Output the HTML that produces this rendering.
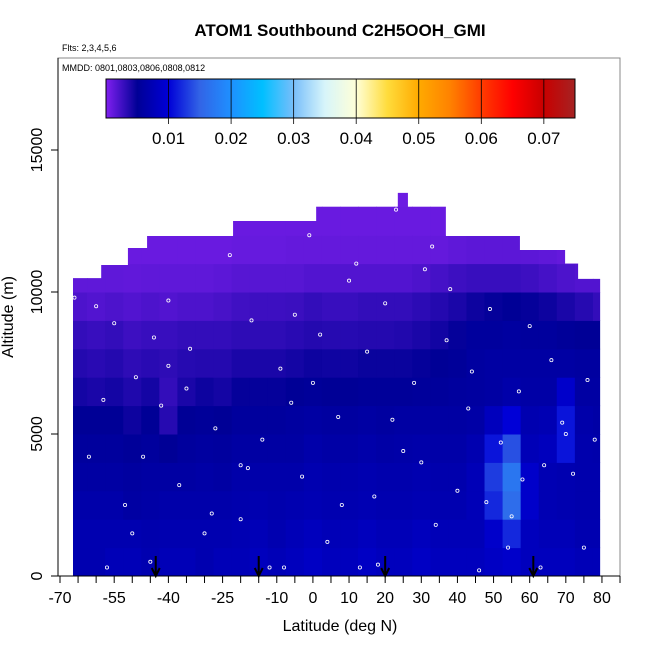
<!DOCTYPE html>
<html><head><meta charset="utf-8"><style>
body{margin:0;background:#fff}
svg text{font-family:"Liberation Sans",sans-serif}
</style></head><body>
<svg id="c" width="650" height="650" xmlns="http://www.w3.org/2000/svg">
<text x="340" y="36" text-anchor="middle" font-size="17" font-weight="bold">ATOM1 Southbound C2H5OOH_GMI</text>
<text x="62" y="51" font-size="9">Flts: 2,3,4,5,6</text>
<g id="heat"></g>
<g id="dots"></g>
<g id="arrows"></g>
<rect x="58" y="58" width="562" height="518" fill="none" stroke="#888"/>
<text x="62" y="71" font-size="9">MMDD: 0801,0803,0806,0808,0812</text>
<defs><linearGradient id="cb" x1="0" x2="1" y1="0" y2="0"></linearGradient></defs>
<rect x="106" y="79" width="469" height="39" fill="url(#cb)" stroke="#000"/>
<g id="cbt"></g>
<g id="ax"></g>
<text x="340" y="631" text-anchor="middle" font-size="16">Latitude (deg N)</text>
<text transform="translate(13,317) rotate(-90)" text-anchor="middle" font-size="16">Altitude (m)</text>
</svg>
<script>
const latCenters=[-65,-60,-55,-50,-45,-40,-35,-30,-25,-20,-15,-10,-5,0,5,10,15,20,25,30,35,40,45,50,55,60,65,70,75,80];
const altBins=[0,1000,2000,3000,4000,5000,6000,7000,8000,9000,10000,11000,12000,13000];
const r0=[.007,.007,.0075,.0075,.007,.0075,.0075,.007,.0075,.0075,.008,.0075,.008,.0085,.008,.008,.0085,.008,.008,.0085,.008,.008,.008,.0085,.009,.008,.008,.008,.0075,.0075];
const r1=[.007,.007,.007,.007,.0068,.007,.007,.007,.007,.0072,.0075,.007,.0075,.008,.0075,.0075,.008,.0075,.0075,.008,.0075,.0075,.0075,.009,.012,.008,.0075,.0075,.007,.007];
const r2=[.0065,.0065,.0065,.006,.0062,.0065,.0065,.0065,.0065,.0068,.007,.0068,.007,.0072,.007,.007,.0072,.007,.007,.0072,.007,.007,.0075,.012,.016,.009,.0072,.007,.0068,.0068];
const r3=[.006,.006,.006,.0058,.006,.006,.006,.0062,.006,.0065,.0065,.0065,.0065,.007,.0068,.0068,.007,.0068,.0068,.007,.0068,.0068,.0075,.013,.017,.009,.0072,.007,.0068,.0068];
const r4=[.0055,.0055,.0055,.0052,.0055,.005,.0055,.0058,.0056,.006,.006,.006,.006,.0065,.0062,.0062,.0065,.0062,.0064,.0065,.0064,.0064,.007,.011,.014,.0075,.008,.011,.0068,.0066];
const r5=[.005,.005,.005,.0045,.005,.0035,.005,.0052,.005,.0055,.0055,.0055,.0058,.006,.0058,.0058,.006,.0058,.006,.006,.006,.006,.0062,.008,.010,.007,.0072,.011,.0065,.0062];
const r6=[.0042,.004,.0042,.0038,.0042,.003,.004,.0045,.0042,.0048,.0048,.0048,.005,.0052,.005,.005,.0052,.0052,.0052,.0054,.0054,.0056,.0058,.006,.0065,.0062,.0062,.009,.006,.006];
const r7=[.0036,.0034,.0036,.0032,.0034,.0032,.0035,.0036,.0036,.004,.004,.004,.0042,.0045,.0044,.0044,.0046,.0046,.0046,.0048,.005,.0052,.0058,.006,.006,.006,.006,.006,.0058,.0058];
const r8=[.003,.0028,.003,.0026,.0028,.0028,.003,.003,.003,.0032,.0032,.0032,.0034,.0036,.0035,.0035,.0036,.0036,.0037,.004,.0043,.0048,.0055,.0055,.0058,.0055,.0055,.0052,.005,.005];
const r9=[.002,.0018,.002,.0018,.002,.0018,.002,.002,.0022,.0025,.0026,.0026,.0027,.003,.0028,.0028,.003,.003,.003,.0033,.0036,.004,.0045,.0048,.005,.0048,.0045,.004,.0035,.003];
const r10=[.0013,.0013,.0013,.0012,.0013,.0013,.0013,.0013,.0014,.0016,.0016,.0016,.0016,.0018,.0018,.0018,.0018,.0018,.0018,.002,.0023,.0026,.0028,.0028,.0028,.0026,.0023,.002,.0018,.0018];
const r11=[.0009,.0009,.0009,.0009,.0009,.0009,.0009,.0009,.0009,.001,.001,.001,.0011,.0011,.0011,.0011,.0011,.0011,.0011,.0011,.0011,.0013,.0014,.0014,.0014,.0014,.0013,.0011,.0011,.0011];
const r12=[.0008,.0008,.0008,.0008,.0008,.0008,.0008,.0008,.0008,.0009,.0009,.0009,.0009,.0009,.0009,.0009,.0009,.0009,.0009,.0009,.0009,.0009,.0009,.0009,.0009,.0009,.0009,.0009,.0009,.0009];
const r13=[.0008,.0008,.0008,.0008,.0008,.0008,.0008,.0008,.0008,.0008,.0008,.0008,.0008,.0008,.0008,.0008,.0008,.0008,.0008,.0008,.0008,.0008,.0008,.0008,.0008,.0008,.0008,.0008,.0008,.0008];
const rows=[r0,r1,r2,r3,r4,r5,r6,r7,r8,r9,r10,r11,r12,r13];
const colEdges=[-66.4,-58.6,-51.2,-45.9,-22.1,0.9,23.5,26.3,36.8,57.3,69.8,73.4,79.5];
const colTops=[10490,10950,11550,11970,12500,13000,13490,13000,11970,11480,11000,10460];
const obsLat=[-68,-66,-60,-57,-55,-52,-49,-47,-45,-42,-40,-37,-34,-30,-27,-23,-20,-17,-14,-12,-9,-6,-3,-1,2,4,7,10,13,15,17,20,23,25,28,31,34,37,40,43,46,49,52,55,57,60,63,66,69,72,75,78,-62,-50,-35,-18,-5,8,22,33,44,58,70,-44,-28,-8,12,30,48,64,-58,-40,-20,0,18,38,54,76];
const obsAlt=[600,9800,9500,300,8900,2500,7000,4200,500,6000,9700,3200,8000,1500,5200,11300,2000,9000,4800,300,7300,6100,3500,12000,8500,1200,5600,10400,300,7900,2800,9600,12900,4400,6800,10800,1800,8300,3000,5900,200,9400,4700,2100,6500,8800,300,7600,5400,3600,1000,4800,4200,1500,6600,3800,9200,2500,5500,11600,7200,3400,5000,8400,2200,300,11000,4000,2600,3900,6200,7400,3900,6800,400,10100,1000,6900];
const arrowLat=[-43.5,-15,20,61];
const cbTicks=[0.01,0.02,0.03,0.04,0.05,0.06,0.07];
const xTicks=[-70,-65,-60,-55,-50,-45,-40,-35,-30,-25,-20,-15,-10,-5,0,5,10,15,20,25,30,35,40,45,50,55,60,65,70,75,80,85];
const xLabels=[-70,-55,-40,-25,-10,0,10,20,30,40,50,60,70,80];
const yTicks=[0,5000,10000,15000];

const NS="http://www.w3.org/2000/svg";
const X=l=>60+(l+70)*3.613;
const Y=a=>576-a*0.0284;
const CB=v=>106+v*6255;
const stops=[[0,[128,32,240]],[0.005,[0,0,150]],[0.01,[0,0,215]],[0.015,[50,100,230]],[0.02,[30,144,255]],[0.025,[0,191,255]],[0.03,[120,190,250]],[0.035,[215,245,250]],[0.04,[255,255,215]],[0.045,[255,220,60]],[0.05,[255,170,0]],[0.055,[255,130,0]],[0.06,[255,60,0]],[0.065,[255,0,0]],[0.07,[200,0,0]],[0.075,[165,35,35]]];
function col(v){for(let i=1;i<stops.length;i++){if(v<=stops[i][0]){const a=stops[i-1],b=stops[i],t=(v-a[0])/(b[0]-a[0]);return 'rgb('+a[1].map((c,k)=>Math.round(c+(b[1][k]-c)*t)).join(',')+')';}}return 'rgb(165,35,35)';}
function mk(t,at,p){const e=document.createElementNS(NS,t);for(const k in at)e.setAttribute(k,at[k]);p.appendChild(e);return e;}
const g=document.getElementById('cb');
for(let i=0;i<=30;i++){const v=i*0.075/30;mk('stop',{offset:(i/30),'stop-color':col(v)},g);}
const defs=document.querySelector('defs');
const cp=mk('clipPath',{id:'cl'},defs);
let d='M'+X(colEdges[0])+','+Y(0);
for(let i=0;i<colTops.length;i++){d+=' L'+X(colEdges[i])+','+Y(colTops[i])+' L'+X(colEdges[i+1])+','+Y(colTops[i]);}
d+=' L'+X(colEdges[colEdges.length-1])+','+Y(0)+'Z';
mk('path',{d:d},cp);
const heat=document.getElementById('heat');heat.setAttribute('clip-path','url(#cl)');
rows.forEach((r,ri)=>{r.forEach((v,ci)=>{
 const x0=X(latCenters[ci]-2.5),x1=X(latCenters[ci]+2.5),y1=Y(altBins[ri]),y0=Y(altBins[ri]+1000);
 const e=mk('rect',{x:x0,y:y0,width:x1-x0+0.5,height:y1-y0+0.5,fill:col(v)},heat);
 
 
});});
const dots=document.getElementById('dots');
obsLat.forEach((l,i)=>{const e=mk('circle',{cx:X(l),cy:Y(obsAlt[i]),r:1.6,fill:'none',stroke:'#fff','stroke-width':0.8},dots);
 
 });
const ar=document.getElementById('arrows');
arrowLat.forEach(l=>{const x=X(l);
 const e=mk('path',{d:`M${x},556 L${x},575 M${x-4},568 L${x},576 L${x+4},568`,stroke:'#000','stroke-width':2,fill:'none'},ar);
 
 });
const cbt=document.getElementById('cbt');
cbTicks.forEach(v=>{const x=CB(v);
 mk('line',{x1:x,x2:x,y1:79,y2:124,stroke:'#000','stroke-width':0.8},cbt);
 const t=mk('text',{x:x,y:144,'text-anchor':'middle','font-size':17},cbt);t.textContent=v.toFixed(2);
 
 });
const ax=document.getElementById('ax');
mk('line',{x1:58,x2:620,y1:576,y2:576,stroke:'#000'},ax);
mk('line',{x1:58,x2:58,y1:58,y2:576,stroke:'#000'},ax);
xTicks.forEach(v=>mk('line',{x1:X(v),x2:X(v),y1:576,y2:583,stroke:'#000'},ax));
xLabels.forEach(v=>{const t=mk('text',{x:X(v),y:603,'text-anchor':'middle','font-size':16},ax);t.textContent=v;
 
 });
yTicks.forEach(v=>{mk('line',{x1:51,x2:58,y1:Y(v),y2:Y(v),stroke:'#000'},ax);
 const t=mk('text',{transform:`translate(42,${Y(v)}) rotate(-90)`,'text-anchor':'middle','font-size':16},ax);t.textContent=v;
 
 });
</script>
</body></html>
